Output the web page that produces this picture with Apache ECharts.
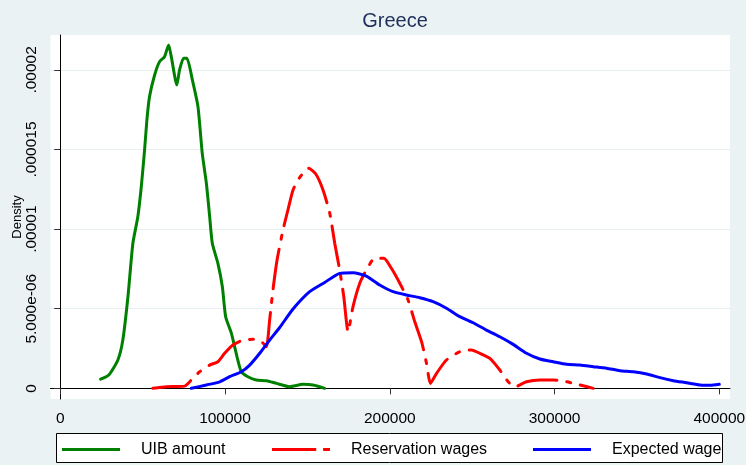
<!DOCTYPE html>
<html>
<head>
<meta charset="utf-8">
<script src="https://cdn.jsdelivr.net/npm/echarts@6/dist/echarts.min.js"></script>
<style>
html,body{margin:0;padding:0;background:#EAF2F3;}
#chart{width:746px;height:465px;}
</style>
</head>
<body>
<div id="chart"></div>
<script>
// Density values are in units of 1e-6
const seriesNames = ['UIB amount', 'Reservation wages', 'Expected wage'];
const xTickValues = [0, 100000, 200000, 300000, 400000];
const xTickLabels = ['0', '100000', '200000', '300000', '400000'];
const yTickValues = [0, 5, 10, 15, 20];
const yTickLabels = ['0', '5.000e-06', '.00001', '.000015', '.00002'];

const uibPoints = [
  [24500,0.58],[29500,0.84],[35000,1.78],[38000,3.03],[41100,5.75],[44100,9.11],[47100,10.78],
  [49200,12.66],[51200,14.97],[52600,16.85],[54200,18.32],[57300,19.68],[60300,20.52],[63300,20.83],
  [65800,21.56],[67400,20.83],[70800,19.05],[72400,19.99],[74900,20.73],[76900,20.73],[80200,19.37],
  [83600,17.69],[86200,14.76],[88700,12.88],[90700,10.78],[92300,9.11],[95700,7.85],[98400,6.38],
  [100400,4.50],[103900,3.45],[107300,1.98],[109900,1.04],[113900,0.73],[119000,0.52],[125100,0.48],
  [131200,0.31],[139300,0.10],[147300,0.25],[153400,0.21],[160500,0.0]
];
const resPoints = [
  [56200,0],[64400,0.10],[75500,0.14],[80500,0.63],[84600,1.04],[90700,1.46],[95700,1.67],
  [99800,2.20],[104800,2.72],[110900,3.03],[117000,3.08],[122100,2.93],[125100,2.61],[127100,4.29],
  [129100,6.17],[131600,8.06],[135200,9.94],[138200,11.20],[141300,12.46],[145300,13.24],[150800,13.82],
  [155100,13.46],[159500,12.46],[163600,10.99],[166600,9.11],[169600,7.43],[172100,5.75],[174700,3.56],
  [177700,5.13],[181800,6.60],[185800,7.43],[190900,8.17],[196400,8.17],[201000,7.54],[206100,6.60],
  [211100,5.55],[215200,4.18],[219300,2.93],[222300,1.57],[224700,0.31],[228400,0.94],[234400,1.78],
  [242500,2.30],[249600,2.41],[254700,2.20],[260800,1.88],[266800,1.15],[271900,0.41],[276000,0.10],
  [283000,0.41],[291200,0.52],[299200,0.52],[307300,0.41],[315400,0.21],[323500,0.0]
];
const expPoints = [
  [79600,0],[88700,0.21],[96800,0.41],[102800,0.73],[109900,1.04],[115000,1.46],[121100,2.20],
  [127100,3.03],[133200,3.82],[141300,4.98],[151400,6.07],[160500,6.65],[169600,7.22],[177700,7.26],
  [185800,7.05],[193900,6.49],[202000,6.07],[210100,5.86],[218200,5.69],[226300,5.44],[234400,5.03],
  [242500,4.50],[250600,4.12],[258700,3.66],[266800,3.24],[274900,2.76],[283000,2.20],[291100,1.84],
  [299200,1.67],[307300,1.51],[315400,1.46],[323500,1.36],[331600,1.26],[339700,1.11],[347800,1.04],
  [355900,0.90],[364000,0.67],[372100,0.48],[380200,0.35],[388300,0.21],[394300,0.19],[400000,0.25]
];

const FONT = '"Liberation Sans", Arial, sans-serif';
const chart = echarts.init(document.getElementById('chart'), null, {renderer: 'canvas'});

function legendAt(left, name, icon) {
  return {
    data: [{name: name, icon: icon}], left: left, top: 441.5, padding: 0, itemWidth: 58, itemHeight: 3,
    selectedMode: false, z: 5,
    textStyle: {fontFamily: FONT, fontSize: 16, color: '#000', padding: [0,0,0,16]}
  };
}

const option = {
  backgroundColor: '#EAF2F3',
  animation: false,
  title: {
    text: 'Greece', left: 390, top: 6, textAlign: 'center',
    textStyle: {fontFamily: FONT, fontSize: 20, fontWeight: 'normal', color: '#1E2F5C'}
  },
  grid: {left: 50.5, right: 16, top: 35, bottom: 66, show: true, backgroundColor: '#ffffff', borderWidth: 0,
         containLabel: false, outerBoundsMode: 'none'},
  graphic: [{
    type: 'rect', z: 1,
    shape: {x: 56.5, y: 433.5, width: 666, height: 29},
    style: {fill: '#ffffff', stroke: '#000000', lineWidth: 1}
  }],
  legend: [
    legendAt(62, seriesNames[0], 'rect'),
    legendAt(272, seriesNames[1], 'path://M0 0H45V3H0Z M52 0H59V3H52Z'),
    legendAt(533, seriesNames[2], 'rect')
  ],
  xAxis: {
    type: 'value', min: -5900, max: 406500,
    axisLine: {show: true, lineStyle: {color: '#000', width: 1}},
    axisTick: {show: true, length: 6, lineStyle: {color: '#333'}, customValues: xTickValues},
    axisLabel: {
      customValues: xTickValues, margin: 12, fontFamily: FONT, fontSize: 15.5, color: '#000',
      formatter: function (v) { const i = xTickValues.indexOf(v); return i >= 0 ? xTickLabels[i] : ''; }
    },
    splitLine: {show: false}
  },
  yAxis: {
    type: 'value', min: -0.67, max: 22.19,
    name: 'Density', nameLocation: 'middle', nameRotate: 90, nameGap: 27, nameMoveOverlap: false,
    nameTextStyle: {fontFamily: FONT, fontSize: 13, color: '#000'},
    axisLine: {show: true, lineStyle: {color: '#000', width: 1}},
    axisTick: {show: true, length: 6, lineStyle: {color: '#333'}, customValues: yTickValues},
    axisLabel: {
      customValues: yTickValues, rotate: 90, margin: 11, fontFamily: FONT, fontSize: 15.5, color: '#000',
      formatter: function (v) { const i = yTickValues.indexOf(v); return i >= 0 ? yTickLabels[i] : ''; }
    },
    splitLine: {show: true, lineStyle: {color: '#E6EEF0', width: 1}}
  },
  series: [
    {name: seriesNames[0], type: 'line', data: uibPoints, symbol: 'none', smooth: 0.2, z: 3,
     lineStyle: {color: '#008000', width: 3, cap: 'round', join: 'round'}, itemStyle: {color: '#008000'}},
    {name: seriesNames[1], type: 'line', data: resPoints, symbol: 'none', smooth: 0.2, z: 3,
     lineStyle: {color: '#FF0000', width: 3, type: [40, 10, 4, 10], cap: 'round', join: 'round'}, itemStyle: {color: '#FF0000'}},
    {name: seriesNames[2], type: 'line', data: expPoints, symbol: 'none', smooth: 0.2, z: 3,
     lineStyle: {color: '#0000FF', width: 3, cap: 'round', join: 'round'}, itemStyle: {color: '#0000FF'}}
  ]
};
chart.setOption(option);
</script>
</body>
</html>
